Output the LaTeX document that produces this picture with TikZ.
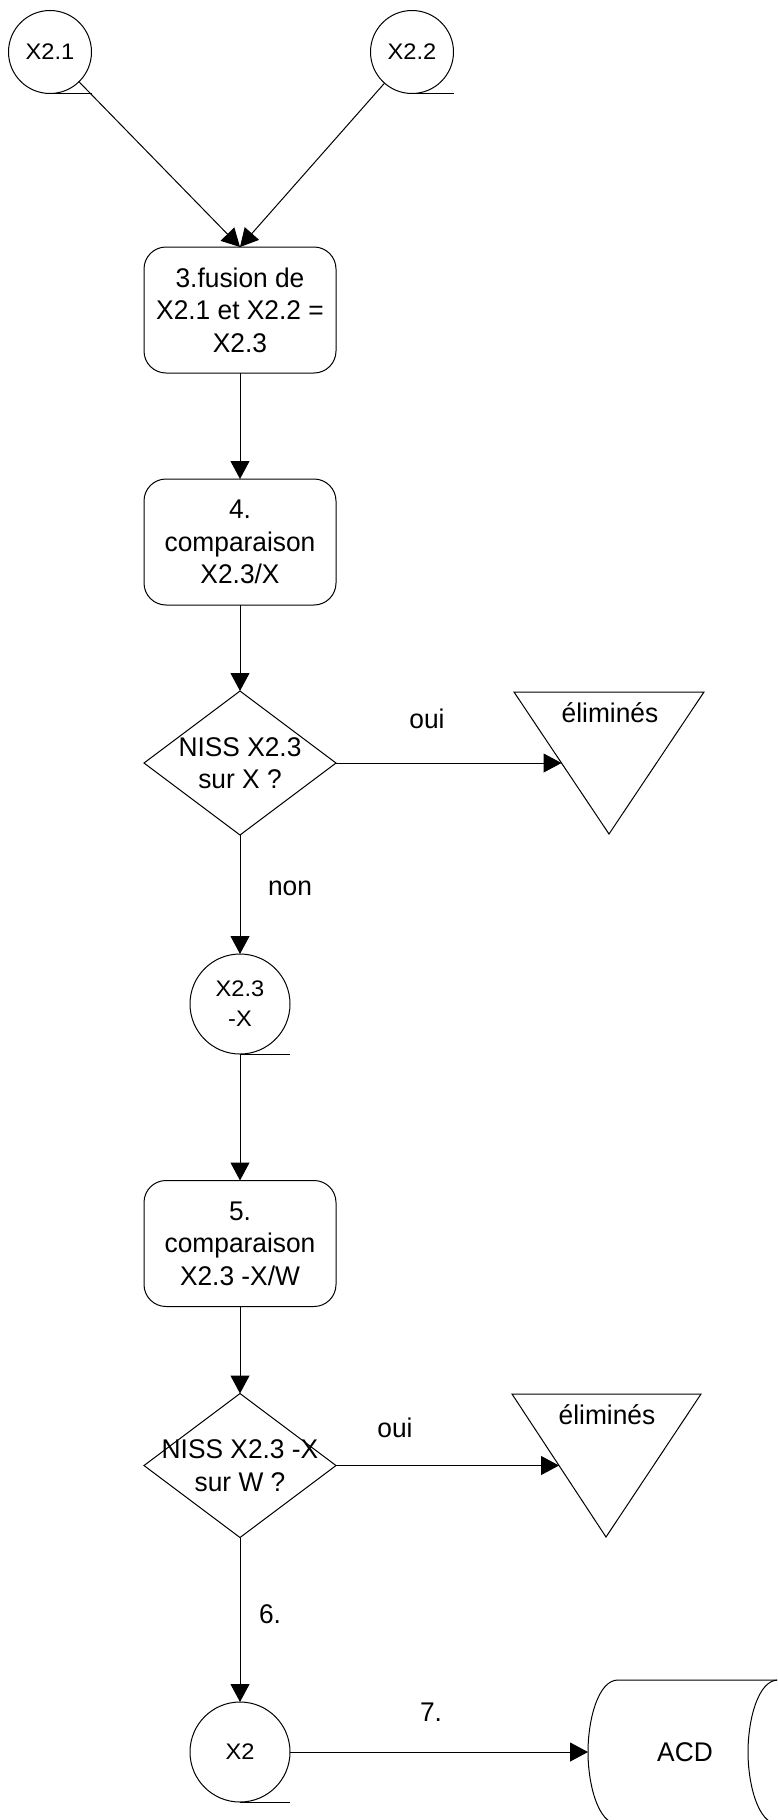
\documentclass[tikz,border=0pt]{standalone}
\usepackage{fontspec}
\setmainfont{Liberation Sans}[FakeStretch=0.975]
\newfontfamily\circfont{Liberation Sans}[FakeStretch=1.05]
\usetikzlibrary{shapes.geometric,arrows.meta,calc}
\begin{document}
\begin{tikzpicture}[x=1pt,y=-1pt, line width=1pt,
  every node/.style={inner sep=0pt, outer sep=0pt},
  txt/.style={font=\fontsize{27}{32.5}\selectfont, align=center},
  ctxt/.style={font=\circfont\fontsize{22.5}{30}\selectfont, align=center},
  proc/.style={draw, rounded corners=22pt, minimum width=192pt, minimum height=126pt, txt},
  dec/.style={draw, diamond, minimum width=192pt, minimum height=144pt},
  store/.style={draw, circle, minimum size=100pt, ctxt},
  arr/.style={-{Triangle[length=18pt,width=19pt]}},
  lab/.style={txt, anchor=base}]
\fill[white] (0,0) rectangle (777,1820);
\useasboundingbox (0,0) rectangle (777,1820);
\clip (0,0) rectangle (777,1820);

% nodes
\node[store, minimum size=83pt] (c21) at (50,52) {X2.1};
\node[store, minimum size=83pt] (c22) at (412,52) {X2.2};
\node[proc] (b3) at (240,310) {3.fusion de\\X2.1 et X2.2 =\\X2.3};
\node[proc] (b4) at (240,542) {4.\\comparaison\\X2.3/X};
\node[dec] (d1) at (240,763) {};
\node[txt] (d1t) at (240,763) {NISS X2.3\\sur X ?};
\node[store] (c23) at (240,1004) {X2.3\\-X};
\node[proc] (b5) at (240,1243.5) {5.\\comparaison\\X2.3 -X/W};
\node[dec] (d2) at (240,1465.5) {};
\node[txt] (d2t) at (240,1465.5) {NISS X2.3 -X\\sur W ?};
\node[store] (c2) at (240,1752) {X2};

% tails of storage circles
\draw (c21.south) -- (c21.south -| c21.east);
\draw (c22.south) -- (c22.south -| c22.east);
\draw (c23.south) -- (c23.south -| c23.east);
\draw (c2.south) -- (c2.south -| c2.east);

% triangles
\coordinate (t1a) at (514,692);
\coordinate (t1b) at (704,692);
\coordinate (t1c) at (609,834);
\draw (t1a) -- (t1b) -- (t1c) -- cycle;
\coordinate (t1in) at ($(t1a)!0.5!(t1c)$);
\node[lab] (e1) at (610,722) {éliminés};

\coordinate (t2a) at (512,1394);
\coordinate (t2b) at (701,1394);
\coordinate (t2c) at (606,1537);
\draw (t2a) -- (t2b) -- (t2c) -- cycle;
\coordinate (t2in) at ($(t2a)!0.5!(t2c)$);
\node[lab] (e2) at (607,1424) {éliminés};

% ACD storage (horizontal cylinder)
\draw (790,1680) -- (618,1680) .. controls (598,1680) and (588,1720) .. (588,1752)
      .. controls (588,1784) and (598,1824) .. (618,1824) -- (790,1824);
\draw (778,1680) .. controls (758,1680) and (748,1720) .. (748,1752)
      .. controls (748,1784) and (758,1824) .. (778,1824);
\coordinate (acdin) at (588,1752);
\node[lab] (acd) at (685,1761) {ACD};

% connectors
\draw[arr] (c21) -- (b3.north);
\draw[arr] (c22) -- (b3.north);
\draw[arr] (b3.south) -- (b4.north);
\draw[arr] (b4.south) -- (d1.north);
\draw[arr] (d1.south) -- (c23.north);
\draw[arr] (c23.south) -- (b5.north);
\draw[arr] (b5.south) -- (d2.north);
\draw[arr] (d2.south) -- (c2.north);
\draw[arr] (d1.east) -- (t1in);
\draw[arr] (d2.east) -- (t2in);
\draw[arr] (c2.east) -- (acdin);

% labels
\node[lab] (oui1) at (427,728) {oui};
\node[lab] (non) at (290,895) {non};
\node[lab] (oui2) at (395,1437) {oui};
\node[lab] (l6) at (270,1623) {6.};
\node[lab] (l7) at (431,1721) {7.};
\end{tikzpicture}
\end{document}
